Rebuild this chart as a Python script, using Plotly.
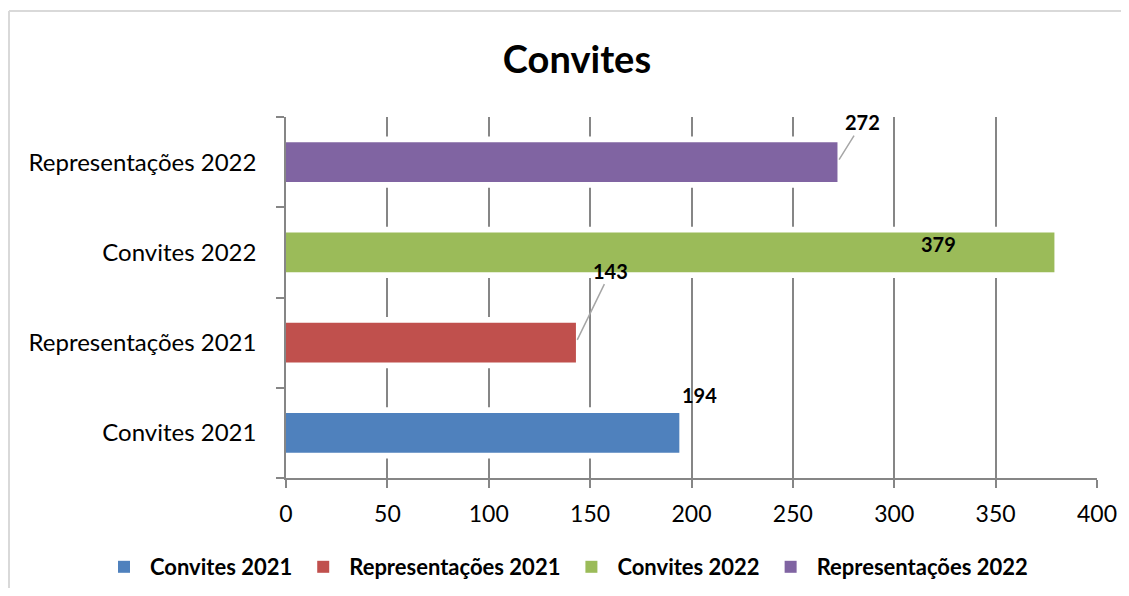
import plotly.graph_objects as go

categories = ["Convites 2021", "Representações 2021", "Convites 2022", "Representações 2022"]
values = [194, 143, 379, 272]
colors = ["#4F81BD", "#C0504D", "#9BBB59", "#8064A2"]
x_ticks = [0, 50, 100, 150, 200, 250, 300, 350, 400]

FONT = "Lato"
OFF = 8  # page body margin
W, H = 1129 - 2 * OFF, 596 - 2 * OFF
L, T = 286 - OFF, 117 - OFF
R = W - (1097 - OFF)
B = H - (478 - OFF)

fig = go.Figure()

# white halo behind bars (gridlines break around bars)
for cat, val in zip(categories, values):
    fig.add_trace(go.Bar(y=[cat], x=[val], orientation="h", width=0.57,
                         marker=dict(color="white", line=dict(width=0)),
                         showlegend=False, hoverinfo="skip"))

for cat, val, col in zip(categories, values, colors):
    fig.add_trace(go.Bar(y=[cat], x=[val], orientation="h", name=cat, width=0.44,
                         marker=dict(color=col, line=dict(width=0))))

# data labels
label_cfg = {
    "Representações 2022": dict(arrow=True, ax=25, ay=-40),
    "Convites 2022": dict(arrow=False, xshift=-116, yshift=8),
    "Representações 2021": dict(arrow=True, ax=35, ay=-72),
    "Convites 2021": dict(arrow=False, xshift=20, yshift=38),
}
for cat, val in zip(categories, values):
    cfg = label_cfg[cat]
    if cfg["arrow"]:
        fig.add_annotation(x=val, y=cat, text="<b>%d</b>" % val, showarrow=True,
                           arrowhead=0, arrowwidth=1.5, arrowcolor="#A6A6A6",
                           ax=cfg["ax"], ay=cfg["ay"], standoff=3,
                           font=dict(family=FONT, size=20, color="black"))
    else:
        fig.add_annotation(x=val, y=cat, text="<b>%d</b>" % val, showarrow=False,
                           xshift=cfg["xshift"], yshift=cfg["yshift"],
                           font=dict(family=FONT, size=20, color="black"))

pw = W - L - R
ph = H - T - B
def px_x(p):
    return (p - OFF - L) / pw
def px_y(p):
    return (H - B - (p - OFF)) / ph

# chart frame (only left and top edges visible in the reference)
frame = dict(color="#D9D9D9", width=2)
fig.add_shape(type="line", xref="paper", yref="paper",
              x0=px_x(9), x1=px_x(1160), y0=px_y(11), y1=px_y(11),
              line=frame, layer="below")
fig.add_shape(type="line", xref="paper", yref="paper",
              x0=px_x(9), x1=px_x(9), y0=px_y(11), y1=px_y(640),
              line=frame, layer="below")

fig.update_layout(
    width=W, height=H,
    margin=dict(l=L, r=R, t=T, b=B, autoexpand=False),
    paper_bgcolor="white", plot_bgcolor="white",
    barmode="overlay",
    title=dict(text="<b>Convites</b>", x=(577 - OFF) / W, xref="container", xanchor="center",
               y=1 - (60 - OFF) / H, yref="container", yanchor="middle",
               font=dict(family=FONT, size=38, color="black")),
    font=dict(family=FONT, size=24, color="black"),
    legend=dict(orientation="h", x=px_x(98), xanchor="left", y=px_y(567), yanchor="middle",
                font=dict(family=FONT, size=22, color="black", weight="bold"),
                itemwidth=42, traceorder="normal", bgcolor="rgba(0,0,0,0)"),
    xaxis=dict(range=[0, 400], tickvals=x_ticks, showgrid=True, gridcolor="#868686",
               gridwidth=1.5, showline=True, linecolor="#868686", linewidth=1.5,
               ticks="outside", ticklen=8, tickcolor="#868686", tickwidth=1.5,
               zeroline=False, ticklabelstandoff=7,
               tickfont=dict(family=FONT, size=23, color="black")),
    yaxis=dict(type="category", categoryorder="array", categoryarray=categories,
               range=[-0.5, 3.5],
               showline=True, linecolor="#868686", linewidth=1.5, showgrid=False,
               ticks="outside", ticklen=8, tickcolor="#868686", tickwidth=1.5,
               tickson="boundaries", ticklabelstandoff=23,
               tickfont=dict(family=FONT, size=24, color="black")),
)

fig.write_html("out.html")
